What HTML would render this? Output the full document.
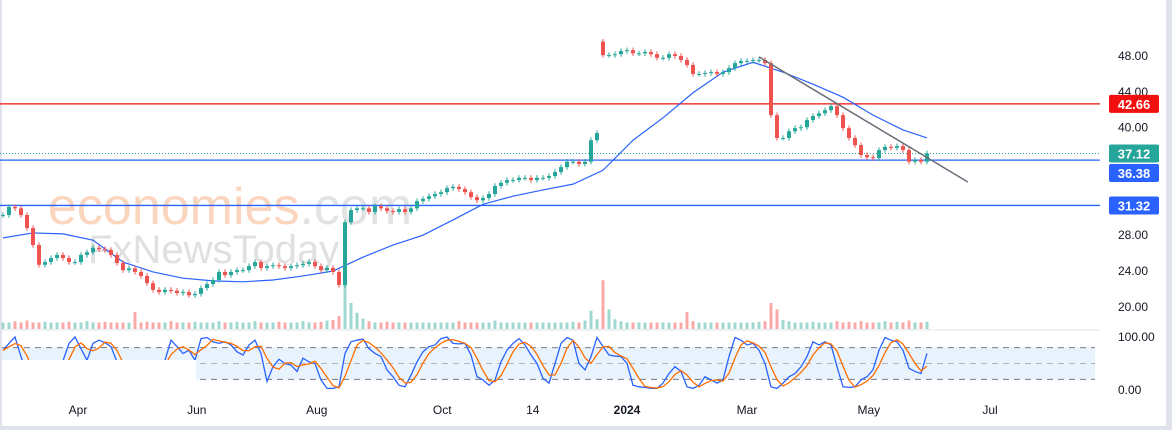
<!DOCTYPE html>
<html><head><meta charset="utf-8"><style>
html,body{margin:0;padding:0;background:#fff;}
svg{display:block;font-family:"Liberation Sans",sans-serif;}
</style></head><body>
<svg id="chart" width="1172" height="430" viewBox="0 0 1172 430" xmlns="http://www.w3.org/2000/svg">
<rect x="0" y="0" width="1172" height="430" fill="#fff"/>
<rect x="0" y="0" width="2" height="430" fill="#e0e3eb"/>
<rect x="1166" y="0" width="6" height="430" fill="#e0e3eb"/>
<rect x="0" y="426" width="1172" height="4" fill="#e0e3eb"/>
<g>
<text x="48" y="224" font-size="52" fill="#fbd5bd">economies<tspan fill="#e3e3e3">.com</tspan></text>
<text x="88" y="263" font-size="40" fill="#e0e0e0">FxNewsToday</text>
</g>
<line x1="0" y1="330" x2="1100" y2="330" fill="none" stroke="#e0e3eb" stroke-width="1"/>
<g id="stochBand"></g>
<g id="volumes"></g>
<g id="hlines"></g>
<g id="ma"></g>
<g id="candles"></g>
<g id="trend"></g>
<g id="stoch"></g>
<rect x="2" y="360" width="194" height="32" fill="#fff"/>
<g id="axis"></g>
</svg>
<script>
const closes=[30.25,31.15,31.0,30.25,28.8,26.9,24.7,25.0,25.45,25.8,
25.45,25.0,25.0,25.8,26.1,26.6,26.45,26.35,25.8,24.9,
24.1,24.3,23.9,23.45,22.65,21.9,21.65,21.9,21.8,21.55,
21.65,21.3,21.45,22.1,22.55,23.0,23.9,23.55,23.9,24.1,
24.1,24.55,25.0,24.35,24.55,24.65,24.55,24.35,24.55,24.65,
24.8,25.0,24.55,24.1,24.35,23.9,22.45,29.45,30.8,31.0,
31.0,30.6,31.25,31.0,30.7,30.6,30.9,30.6,31.0,31.8,
32.05,32.35,32.6,32.8,33.25,33.4,33.15,32.8,32.25,31.9,
32.15,32.6,33.5,33.85,34.15,34.15,34.4,34.4,34.15,34.4,
34.4,34.6,35.05,35.6,36.2,36.2,35.95,36.2,38.6,39.4,
48.1,48.1,48.2,48.55,48.65,48.3,48.3,48.45,48.2,47.8,
47.8,48.2,48.0,47.55,47.0,46.0,46.0,46.1,46.2,46.0,
46.2,46.65,47.2,47.45,47.45,47.55,47.55,47.2,41.4,38.85,
38.85,39.6,39.95,40.05,40.85,41.3,41.6,41.95,42.4,41.4,
39.95,38.85,38.05,36.95,36.7,36.6,37.5,37.85,37.75,37.95,
37.5,36.2,36.4,36.2,37.12];
const gapIdx=[100];
const gapOpen=[49.6];
const volumes=[1,1,1.2,1,1.3,1,1,1.1,1,1,
1,1.1,1,1,1.2,1,1,1.1,1,1,
1,1,2.6,1,1.1,1,1,1,1.2,1,
1,1,1.1,1,1,1,1.2,1,1,1.1,
1,1,1.2,1,1,1,1.1,1,1,1,
1.2,1,1,1.1,1.3,1.4,2,8,4,2.5,
1.6,1.2,1,1,1.1,1,1,1,1,1,
1,1,1,1,1,1,1.2,1,1,1,
1,1,1.3,1,1,1,1,1,1,1,
1,1,1,1,1,1.1,1,1.3,2.8,1.5,
7.5,3,1.5,1.2,1,1,1,1,1,1,
1,1,1,1,2.6,1.2,1,1,1,1,
1,1,1,1,1,1,1.1,1.2,4,3,
1.4,1.2,1,1,1,1.1,1,1,1,1.2,
1,1.1,1,1.2,1,1,1,1.2,1,1.1,
1,1.3,1,1,1.1];
const maIdx=[0,5,10,15,20,25,30,35,40,45,50,55,60,65,70,75,80,85,90,95,100,105,110,115,120,125,130,135,140,145,150,154];
const maValues=[27.7,28.25,28.15,27.45,25.0,23.9,23.2,22.9,22.8,23.0,23.45,24.0,25.55,26.9,28.0,29.7,31.45,32.35,33.05,33.7,35.25,38.6,41.1,43.9,46.2,47.3,46.2,44.85,43.4,41.4,39.75,38.85];
const stochK=[75,88,100,63,30,15,10,8,15,30,
55,88,100,78,56,88,94,89,82,53,
20,10,8,12,25,35,50,56,94,82,
69,75,56,97,99,91,88,91,85,72,
66,85,94,69,16,44,58,50,47,35,
60,53,50,19,3,3,6,69,91,94,
96,78,69,63,38,25,9,6,28,53,
72,82,85,97,100,88,87,88,66,25,
19,9,19,53,75,88,97,85,66,50,
22,13,50,88,99,94,50,38,63,99,
82,66,64,63,50,9,6,5,3,3,
13,31,44,35,6,3,9,25,19,13,
19,63,99,94,85,88,75,50,6,3,
13,25,31,44,63,91,85,91,85,44,
6,5,6,19,25,38,75,99,94,91,
75,41,35,31,69];
const trendIdx=[126,160.8];
const trendPrice=[47.9,33.94];
const levelValues=[42.66,36.38,31.32];
const levelColors=["#f20f0f","#2962ff","#2962ff"];
const lastPrice=37.12;
const priceTicks=[48,44,40,28,24,20];
const stochTicks=[100,0];
const stochLevels=[80,50,20];
const timeLabels=["Apr","Jun","Aug","Oct","14","2024","Mar","May","Jul"];
const timeIdx=[12.5,32.3,52.3,73.2,88.3,104,124,144.3,164.5];

const NS="http://www.w3.org/2000/svg";
const xOf=i=>3+6*i;
const yOf=p=>56+(48-p)*8.96;
const ySt=v=>390-v*0.53;
function mk(tag,parent,attrs){const e=document.createElementNS(NS,tag);for(const k in attrs)e.setAttribute(k,attrs[k]);parent.appendChild(e);return e;}
const UP="#26a69a",DN="#ef5350";

// stoch band
const sb=document.getElementById('stochBand');
let band=mk('rect',sb,{x:2,y:ySt(80),width:1093,height:ySt(20)-ySt(80),fill:"#e8f3fd"});


stochLevels.forEach(v=>{
 const l=mk('line',sb,{x1:2,x2:1095,y1:ySt(v),y2:ySt(v),stroke:v===50?"#b2b5be":"#787b86","stroke-dasharray":"6 5","stroke-width":1});
 
 
});

// candles + volume
const cg=document.getElementById('candles'),vg=document.getElementById('volumes');
closes.forEach((c,i)=>{
 let o=i===0?c:closes[i-1];
 const gi=gapIdx.indexOf(i); if(gi>=0)o=gapOpen[gi];
 const up=c>=o,col=up?UP:DN,x=xOf(i);
 const hi=Math.max(o,c)+0.3,lo=Math.min(o,c)-0.3;
 const w=mk('line',cg,{x1:x,x2:x,y1:yOf(hi),y2:yOf(lo),stroke:col,"stroke-width":1});
 
 
 const top=yOf(Math.max(o,c)),h=Math.max(1,Math.abs(yOf(o)-yOf(c)));
 const b=mk('rect',cg,{x:x-2,y:top,width:4,height:h,fill:col});
 
 
 const vh=volumes[i]*6.5;
 const vb=mk('rect',vg,{x:x-1.5,y:329-vh,width:3,height:vh,fill:up?"#9fd7d1":"#f7a9a7"});
 
 
});

// horizontal levels
const hg=document.getElementById('hlines');
levelValues.forEach((v,k)=>{
 const l=mk('line',hg,{x1:0,x2:1100,y1:yOf(v),y2:yOf(v),stroke:levelColors[k],"stroke-width":1.3});
 
 
});
const lp=mk('line',hg,{x1:0,x2:1100,y1:yOf(lastPrice),y2:yOf(lastPrice),stroke:"#26a69a","stroke-dasharray":"1 2","stroke-width":1});



// MA
const mg=document.getElementById('ma');
const mp=mk('polyline',mg,{points:maValues.map((v,k)=>xOf(maIdx[k])+","+yOf(v)).join(" "),fill:"none",stroke:"#2962ff","stroke-width":1.2});



// trend
const tg=document.getElementById('trend');
const tl=mk('line',tg,{x1:xOf(trendIdx[0]),y1:yOf(trendPrice[0]),x2:xOf(trendIdx[1]),y2:yOf(trendPrice[1]),stroke:"#6a6d78","stroke-width":1.5});



// stoch
const stg=document.getElementById('stoch');
const stochD=stochK.map((v,i)=>{const a=stochK.slice(Math.max(0,i-2),i+1);return a.reduce((s,x)=>s+x,0)/a.length;});
const kl=mk('polyline',stg,{points:stochK.map((v,i)=>xOf(i)+","+ySt(v)).join(" "),fill:"none",stroke:"#2962ff","stroke-width":1.3});


const dl=mk('polyline',stg,{points:stochD.map((v,i)=>xOf(i)+","+ySt(v)).join(" "),fill:"none",stroke:"#ff6d00","stroke-width":1.3});



// axes
const ag=document.getElementById('axis');
priceTicks.forEach(p=>{
 const t=mk('text',ag,{x:1118,y:yOf(p)+4,"font-size":12,fill:"#131722"});t.textContent=p.toFixed(2);
 
 
});
stochTicks.forEach(v=>{
 const t=mk('text',ag,{x:1118,y:ySt(v)+4,"font-size":12,fill:"#131722"});t.textContent=v.toFixed(2);
 
 
});
const tags=[[42.66,"#f20f0f"],[lastPrice,"#26a69a"],[36.38,"#2962ff"],[31.32,"#2962ff"]];
tags.forEach(([v,c])=>{
 let yy=yOf(v); if(v===36.38)yy=173;
 const r=mk('rect',ag,{x:1109,y:yy-9,width:50,height:18,rx:2,fill:c});
 
 
 const t=mk('text',ag,{x:1134,y:yy+5,"font-size":13,"font-weight":"bold",fill:"#fff","text-anchor":"middle"});t.textContent=v.toFixed(2);
 
 
});
timeLabels.forEach((s,k)=>{
 const t=mk('text',ag,{x:xOf(timeIdx[k]),y:414,"font-size":12,fill:"#131722","text-anchor":"middle","font-weight":s==="2024"?"bold":"normal"});t.textContent=s;
 
 
});
</script>
</body></html>
